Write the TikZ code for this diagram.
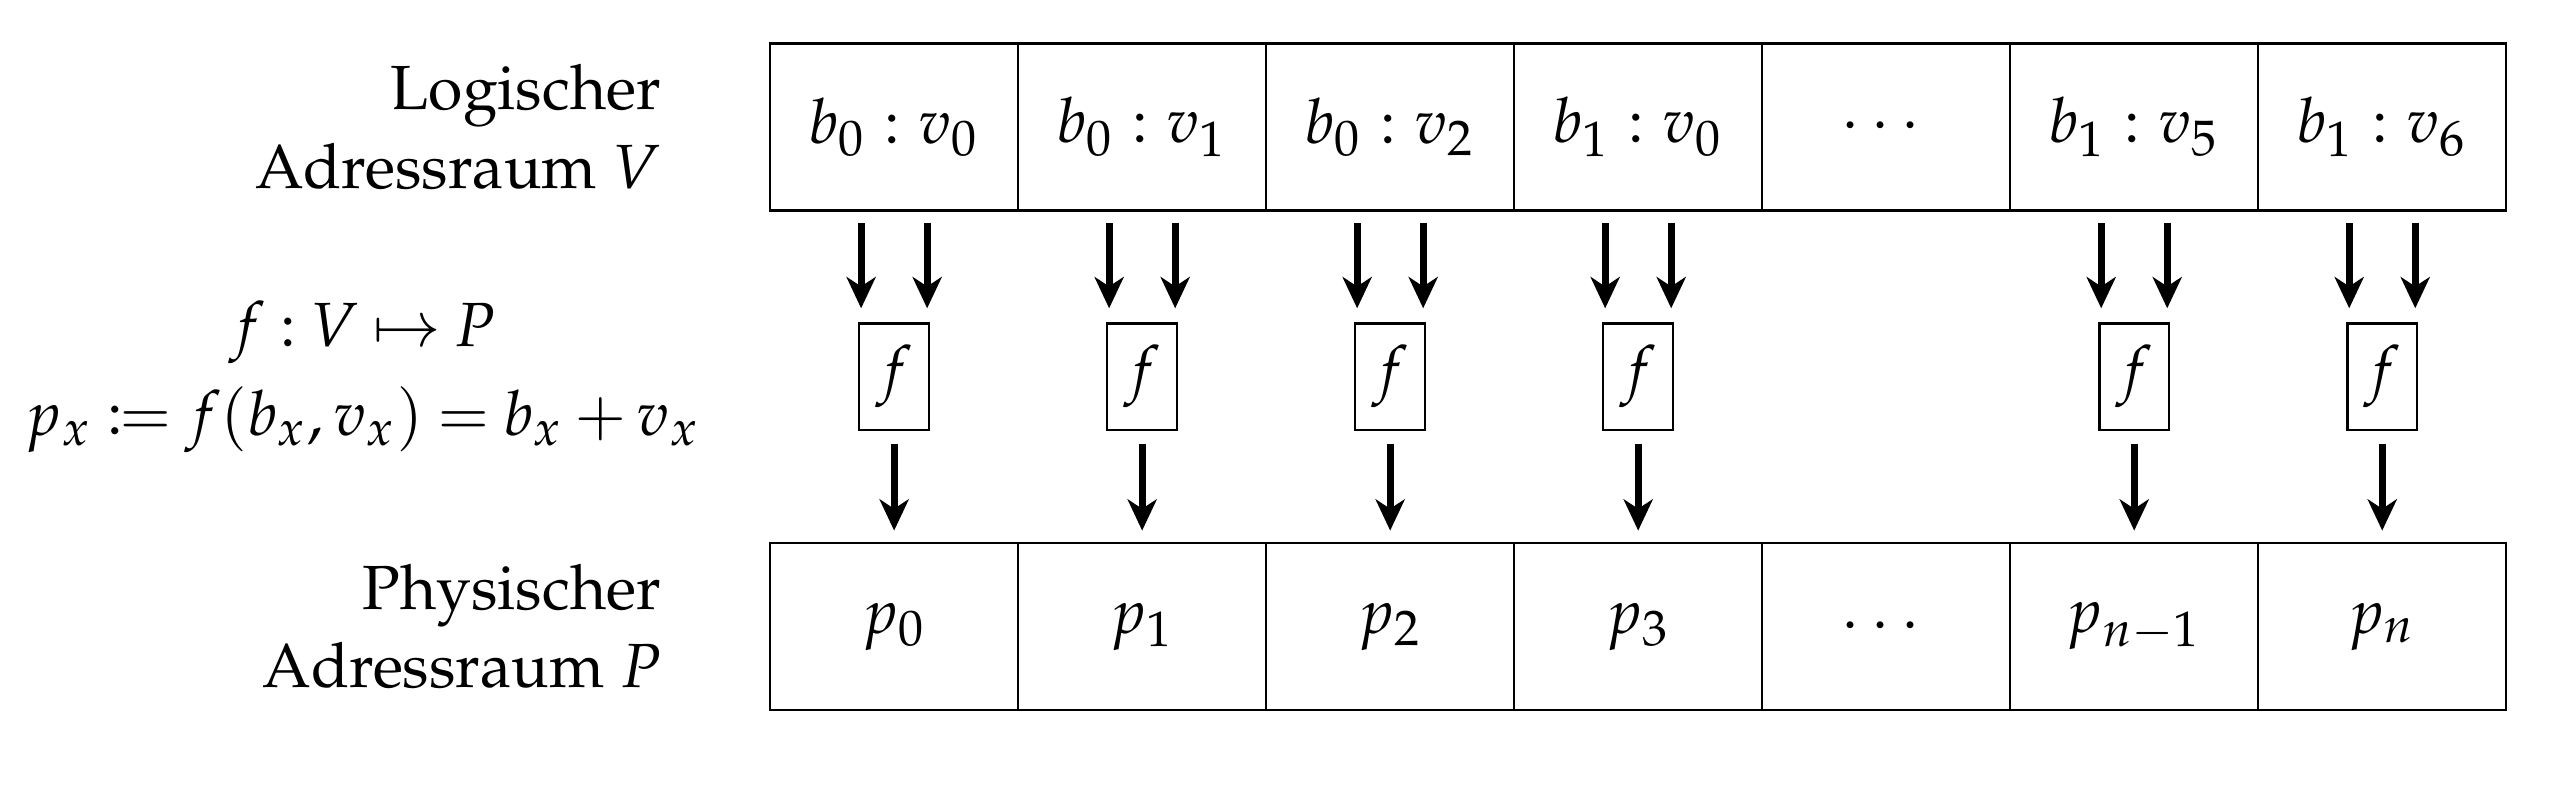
\documentclass[tikz,border=0pt]{standalone}
\usepackage[T1]{fontenc}
\usepackage{mathpazo}
\usepackage{mathtools}
\linespread{1.05}
\DeclareMathSizes{10}{10}{8}{6}
\usetikzlibrary{positioning,arrows.meta}

\begin{document}
\begin{tikzpicture}
  [node distance=0pt,
  cell/.style={draw,minimum width=39.74pt,minimum height=26.76pt,inner sep=0pt,outer sep=0pt},
  fbox/.style={draw,minimum width=11.2pt,minimum height=17.07pt,inner sep=0pt},
  map/.style={line width=1.1pt,-{Stealth[length=5pt,width=4.65pt,inset=1.5pt]}},
  side/.style={align=right,inner sep=0pt}]
\useasboundingbox (0,0) rectangle (408.6pt,-128.8pt);
% logical addresses
\node[cell] (v1) at (143.27pt,-20.35pt) {$b_0 : v_0$};
\node[cell,right=of v1] (v2) {$b_0 : v_1$};
\node[cell,right=of v2] (v3) {$b_0 : v_2$};
\node[cell,right=of v3] (v4) {$b_1 : v_0$};
\node[cell,right=of v4] (v5) {$\cdots$};
\node[cell,right=of v5] (v6) {$b_1 : v_5$};
\node[cell,right=of v6] (v7) {$b_1 : v_6$};
% physical addresses
\node[cell,below=53.29pt of v1] (p1) {$p_0$};
\node[cell,right=of p1] (p2) {$p_1$};
\node[cell,right=of p2] (p3) {$p_2$};
\node[cell,right=of p3] (p4) {$p_3$};
\node[cell,right=of p4] (p5) {$\cdots$};
\node[cell,right=of p5] (p6) {$p_{n-1}$};
\node[cell,right=of p6] (p7) {$p_n$};
\node[side,left=17.3pt of v1] (vl) {Logischer\\Adressraum $V$};
\node[side,left=17.3pt of p1] (pl) {Physischer\\Adressraum $P$};
\node[align=center,inner sep=0pt,anchor=west,
  execute at begin node={\thickmuskip=4mu\medmuskip=3mu}] (fm) at (3.9pt,-60.4pt)
  {$f : V \mapsto P$\\[1.7pt]$p_x \coloneqq f(b_x, v_x) = b_x + v_x$};
\foreach \i in {1,2,3,4,6,7}{
  \path (v\i.south) -- (p\i.north) node[midway,fbox] (f\i) {$f$};
  \draw[map,shorten <=2pt,shorten >=2.24pt] ([xshift=-5.29pt]v\i.south) -- ([xshift=-5.29pt]f\i.north);
  \draw[map,shorten <=2pt,shorten >=2.24pt] ([xshift=5.29pt]v\i.south) -- ([xshift=5.29pt]f\i.north);
  \draw[map,shorten <=2pt,shorten >=2pt] (f\i.south) -- (p\i.north);
}
\end{tikzpicture}
\end{document}
